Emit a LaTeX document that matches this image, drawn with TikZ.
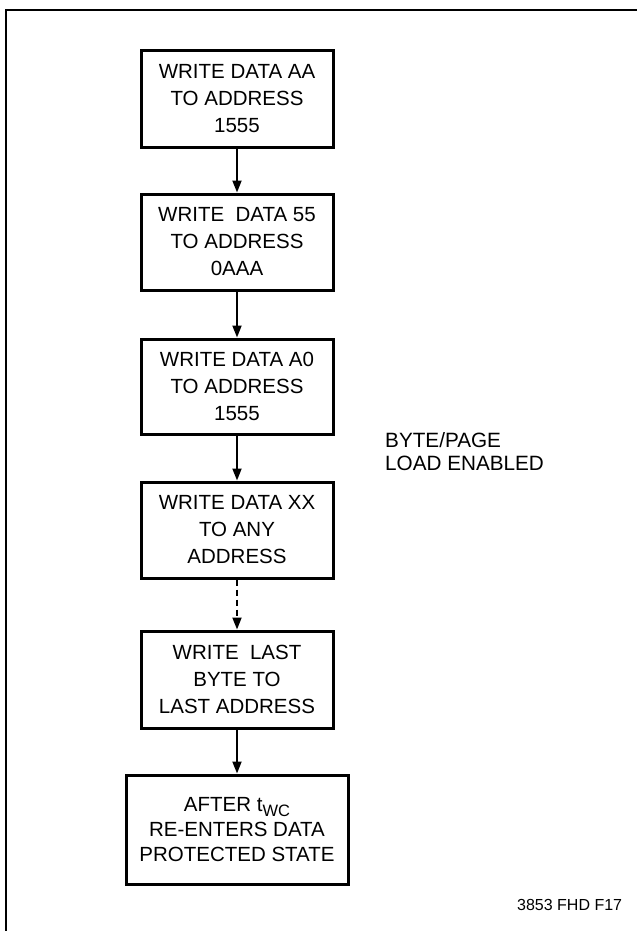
\documentclass[tikz,border=0pt]{standalone}
\usepackage{fontspec}
\setmainfont{Liberation Sans}
\usetikzlibrary{arrows.meta}
\begin{document}
\begin{tikzpicture}[x=1pt,y=-1pt,
  stepbox/.style={draw,line width=3pt,minimum width=192pt,inner sep=0pt,align=center,
    font=\fontsize{20.5}{27}\selectfont},
  flow/.style={line width=1.8pt,-{Triangle[length=12pt,width=9pt]}},
  note/.style={align=left,anchor=north west,inner sep=0pt,font=\fontsize{20.7}{23}\selectfont}]
\useasboundingbox (0,0) rectangle (637,931);
\fill[white] (0,0) rectangle (637,931);
\draw[line width=2.5pt] (6,931) -- (6,10) -- (637,10);
\node[stepbox,minimum height=96pt] (b1) at (237,99) {WRITE DATA AA\\TO ADDRESS\\1555};
\node[stepbox,minimum height=96pt] (b2) at (237,242) {WRITE\ \ DATA 55\\TO ADDRESS\\0AAA};
\node[stepbox,minimum height=95pt] (b3) at (237,386.5) {WRITE DATA A0\\TO ADDRESS\\1555};
\node[stepbox,minimum height=96pt] (b4) at (237,530) {WRITE DATA XX\\TO ANY\\ADDRESS};
\node[stepbox,minimum height=97pt] (b5) at (237,679.5) {WRITE\ \ LAST\\BYTE TO\\LAST ADDRESS};
\node[stepbox,minimum width=222pt,minimum height=109pt,font=\fontsize{20.5}{25}\selectfont] (b6) at (237,829.5)
  {AFTER t\raisebox{-5pt}{\fontsize{16.5}{16}\selectfont WC}\\RE-ENTERS DATA\\PROTECTED STATE};
\draw[flow] (b1) -- (b2);
\draw[flow] (b2) -- (b3);
\draw[flow] (b3) -- (b4);
\draw[flow,dash pattern=on 6pt off 4pt] (b4) -- (b5);
\draw[flow] (b5) -- (b6);
\node[note] (n1) at (385,432) {BYTE/PAGE\\LOAD ENABLED};
\node[anchor=north west,inner sep=0pt,font=\fontsize{16}{18}\selectfont] (n2) at (517,899) {3853 FHD F17};
\end{tikzpicture}
\end{document}
